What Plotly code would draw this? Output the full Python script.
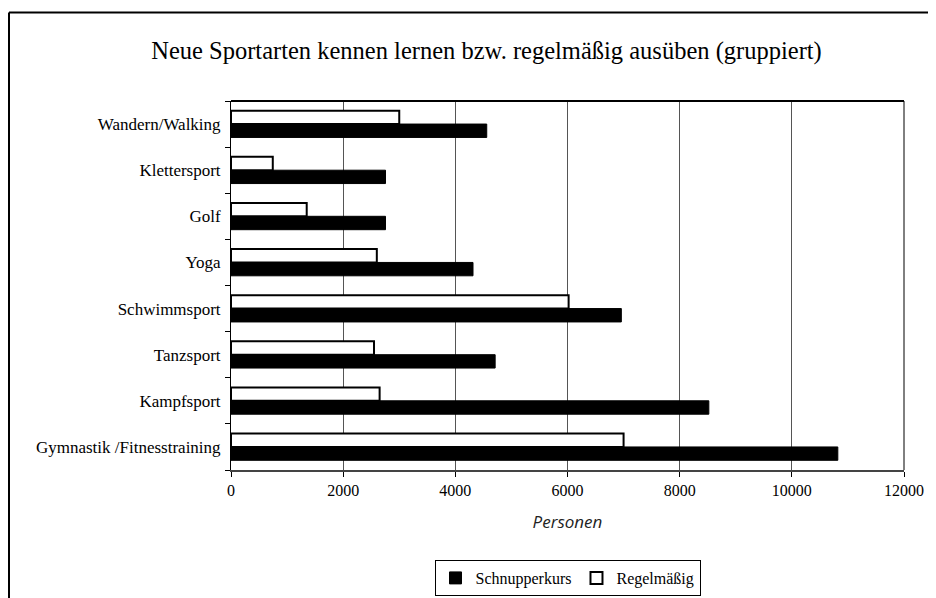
import plotly.graph_objects as go

categories = ["Gymnastik /Fitnesstraining", "Kampfsport", "Tanzsport", "Schwimmsport",
              "Yoga", "Golf", "Klettersport", "Wandern/Walking"]
schnupperkurs = [10820, 8520, 4710, 6960, 4315, 2755, 2755, 4560]
regelmaessig = [7000, 2650, 2550, 6020, 2600, 1350, 745, 3000]
x_ticks = [0, 2000, 4000, 6000, 8000, 10000, 12000]

# page has an 8px body margin, so figure coordinates = page coordinates - 8
W, H = 928, 590
L, R, T, B = 223, 32, 93, 128
pw, ph = W - L - R, H - T - B

def px(x):
    return (x - L) / pw

def py(y):
    return (H - B - y) / ph

fig = go.Figure()
fig.add_trace(go.Bar(y=categories, x=schnupperkurs, orientation="h", name="Schnupperkurs",
                     marker=dict(color="black", line=dict(color="black", width=1))))
fig.add_trace(go.Bar(y=categories, x=regelmaessig, orientation="h", name="Regelmäßig",
                     marker=dict(color="white", line=dict(color="black", width=2))))

fig.update_layout(
    width=W, height=H,
    margin=dict(l=L, r=R, t=T, b=B, autoexpand=False),
    paper_bgcolor="white", plot_bgcolor="white",
    barmode="group", bargap=0.42, bargroupgap=0,
    font=dict(family="Liberation Serif", color="black", size=16),
    title=dict(text="Neue Sportarten kennen lernen bzw. regelmäßig ausüben (gruppiert)",
               x=(486.5 - 8) / W, xanchor="center", xref="container", y=1 - 42 / H, yanchor="middle",
               font=dict(family="Liberation Serif", size=24.5, color="black")),
    showlegend=True,
    legend=dict(orientation="h", x=0.5, xanchor="center", y=py(570), yanchor="middle",
                bordercolor="black", borderwidth=1, font=dict(size=16),
                itemwidth=30, traceorder="normal", tracegroupgap=0),
    xaxis=dict(range=[0, 12000], tickvals=x_ticks, ticktext=[str(v) for v in x_ticks],
               showgrid=True, gridcolor="#555", gridwidth=1,
               showline=True, linecolor="#444", linewidth=2, mirror=False,
               ticks="outside", ticklen=5, tickcolor="black",
               tickfont=dict(family="Liberation Serif", size=16),
               ticklabelstandoff=0, automargin=False,
               zeroline=False,
               title=dict(text="<i>Personen</i>", standoff=18,
                          font=dict(family="Open Sans", size=17, color="#222"))),
    yaxis=dict(type="category", categoryorder="array", categoryarray=categories,
               showline=True, linecolor="black", linewidth=1, mirror=False,
               ticks="outside", ticklen=5, tickcolor="black", tickson="boundaries",
               tickfont=dict(family="Liberation Serif", size=17), automargin=False,
               showgrid=False, ticklabelstandoff=6),
    shapes=[
        dict(type="line", xref="paper", yref="paper", x0=0, x1=1, y0=1, y1=1,
             line=dict(color="black", width=2)),
        dict(type="line", xref="paper", yref="paper", x0=1, x1=1, y0=0, y1=1,
             line=dict(color="black", width=1)),
        # outer chart frame: only left and top edges are inside the picture
        dict(type="line", xref="paper", yref="paper", x0=px(1), x1=px(W + 10), y0=py(4.5), y1=py(4.5),
             line=dict(color="black", width=2), layer="below"),
        dict(type="line", xref="paper", yref="paper", x0=px(1), x1=px(1), y0=py(H + 10), y1=py(4.5),
             line=dict(color="black", width=2), layer="below"),
    ],
)

fig.write_html("out.html")
